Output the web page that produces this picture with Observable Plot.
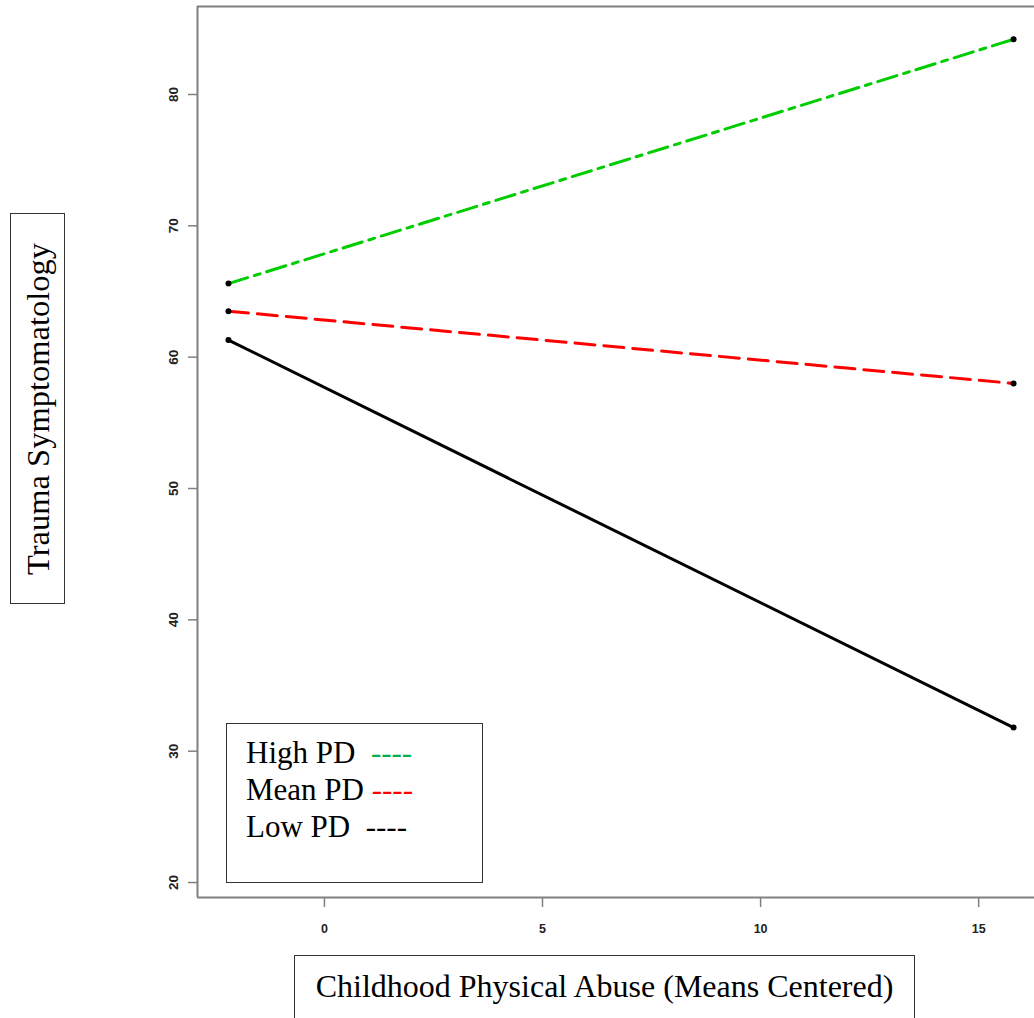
<!DOCTYPE html>
<html><head><meta charset="utf-8">
<script src="https://cdn.jsdelivr.net/npm/d3@7"></script>
<script src="https://cdn.jsdelivr.net/npm/@observablehq/plot@0.6"></script>
<style>
body{margin:0;background:#fff;}
#wrap{position:relative;width:1034px;height:1018px;overflow:hidden;background:#fff;}
.box{position:absolute;box-sizing:border-box;border:1.5px solid #333;background:#fff;font-family:"Liberation Serif","Times New Roman",serif;color:#000;}
</style></head><body><div id="wrap"></div>
<script>
// Data
const xValues = [-2.2, 15.8];
const highPD = [65.6, 84.2];
const meanPD = [63.5, 58.0];
const lowPD = [61.3, 31.8];
const seriesNames = ["High PD", "Mean PD", "Low PD"];
const seriesColors = ["#00cd00", "#ff0000", "#000000"];
const legendColors = ["#00b050", "#ff0000", "#000000"];
const seriesDash = ["20,7,6,7", "20,9", null];
const xTicks = [0, 5, 10, 15];
const yTicks = [20, 30, 40, 50, 60, 70, 80];
const xDomain = [-2.91, 16.28];
const yDomain = [18.86, 86.7];
const xTitle = "Childhood Physical Abuse (Means Centered)";
const yTitle = "Trauma Symptomatology";

const seriesValues = [highPD, meanPD, lowPD];
const rows = [];
seriesNames.forEach((name, i) => {
  xValues.forEach((x, j) => rows.push({series: name, x, y: seriesValues[i][j]}));
});

const lineMarks = seriesNames.map((name, i) =>
  Plot.line(rows.filter(d => d.series === name), {
    x: "x", y: "y", stroke: seriesColors[i], strokeWidth: 3,
    strokeDasharray: seriesDash[i] || undefined
  })
);

const chart = Plot.plot({
  width: 1034, height: 1018,
  marginLeft: 197, marginTop: 6, marginRight: 0, marginBottom: 121,
  x: {domain: xDomain},
  y: {domain: yDomain},
  style: {fontFamily: "'Liberation Sans', Arial, sans-serif", fontSize: "12.5px", fontWeight: "bold", background: "white", color: "#222"},
  marks: [
    Plot.ruleX([xDomain[0]], {stroke: "#808080", strokeWidth: 2}),
    Plot.ruleY([yDomain[0], yDomain[1]], {stroke: "#808080", strokeWidth: 2}),
    Plot.axisY(yTicks, {tickSize: 9, tickFormat: () => "", stroke: "#808080", strokeWidth: 1.5, label: null}),
    Plot.text(yTicks, {x: xDomain[0], y: d => d, text: d => String(d), rotate: -90, dx: -24, fill: "#222", textAnchor: "middle", fontSize: 13.5}),
    Plot.axisX(xTicks, {tickSize: 10, tickPadding: 17, stroke: "#808080", strokeWidth: 1.5, label: null}),
    ...lineMarks,
    Plot.dot(rows, {x: "x", y: "y", r: 3, fill: "black", stroke: "none"})
  ]
});
const wrap = document.getElementById("wrap");
chart.style.position = "absolute";
chart.style.left = "0px";
chart.style.top = "0px";
wrap.appendChild(chart);

// Y title box
const yBox = document.createElement("div");
yBox.className = "box";
Object.assign(yBox.style, {left: "10px", top: "213px", width: "55px", height: "391px", borderWidth: "1px"});
const yText = document.createElement("div");
Object.assign(yText.style, {position: "absolute", left: "50%", top: "50%", transform: "translate(-50%,-50%) rotate(-90deg)", whiteSpace: "nowrap", fontSize: "32.5px"});
yText.textContent = yTitle;
yBox.appendChild(yText);
wrap.appendChild(yBox);

// X title box
const xBox = document.createElement("div");
xBox.className = "box";
Object.assign(xBox.style, {left: "294px", top: "955px", width: "621px", height: "90px", borderWidth: "1px", textAlign: "center", fontSize: "32px", lineHeight: "40px", paddingTop: "10px"});
xBox.textContent = xTitle;
wrap.appendChild(xBox);

// Legend box
const leg = document.createElement("div");
leg.className = "box";
Object.assign(leg.style, {left: "226px", top: "723px", width: "257px", height: "160px", fontSize: "31px", lineHeight: "37px", paddingTop: "10px", paddingLeft: "19px"});
const gaps = ["\u00a0\u00a0", "\u00a0", "\u00a0\u00a0"];
seriesNames.forEach((name, i) => {
  const line = document.createElement("div");
  line.style.whiteSpace = "nowrap";
  const t = document.createElement("span");
  t.textContent = name + gaps[i];
  const dsh = document.createElement("span");
  dsh.textContent = "----";
  dsh.style.color = legendColors[i];
  line.appendChild(t);
  line.appendChild(dsh);
  leg.appendChild(line);
});
wrap.appendChild(leg);
</script>
</body></html>
